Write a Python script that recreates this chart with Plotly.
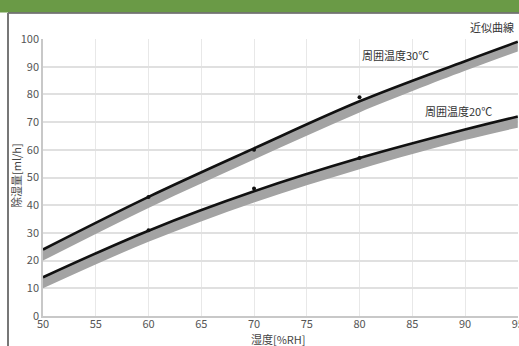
import plotly.graph_objects as go

# Data
humidity = [50, 60, 70, 80, 90, 95]
curve_30 = [24, 43, 60.5, 77.5, 92, 99]
band_30_low = [20, 39, 56.5, 73.5, 88.5, 95.5]
curve_20 = [14, 30.8, 45, 57, 67.3, 72]
band_20_low = [10, 26.8, 41, 53, 63.5, 68]

pts_x = [60, 70, 80]
pts_30 = [43, 60, 79]
pts_20 = [31, 46, 57]

x_ticks = [50, 55, 60, 65, 70, 75, 80, 85, 90, 95]
y_ticks = [0, 10, 20, 30, 40, 50, 60, 70, 80, 90, 100]

FONT = "Noto Sans CJK JP"
W, H = 519, 346
L, R, T, B = 43, 518, 39, 316


def px(x):
    return (x - L) / (R - L)


def py(y):
    return (B - y) / (B - T)


fig = go.Figure()
for low, up in [(band_30_low, curve_30), (band_20_low, curve_20)]:
    fig.add_trace(go.Scatter(x=humidity, y=low, mode="lines",
                             line=dict(width=0, shape="spline", color="#a3a3a3"),
                             hoverinfo="skip", showlegend=False))
    fig.add_trace(go.Scatter(x=humidity, y=up, mode="lines", fill="tonexty",
                             fillcolor="#a3a3a3",
                             line=dict(width=2.6, shape="spline", color="#111111"),
                             showlegend=False))
for ys in [pts_30, pts_20]:
    fig.add_trace(go.Scatter(x=pts_x, y=ys, mode="markers",
                             marker=dict(size=4, color="#111111"),
                             showlegend=False))

fig.update_layout(
    width=W, height=H,
    margin=dict(l=L, r=W - R, t=T, b=H - B, autoexpand=False),
    paper_bgcolor="white", plot_bgcolor="white",
    font=dict(family=FONT, size=11, color="#555555"),
    xaxis=dict(range=[50, 95.02], tickvals=x_ticks, showgrid=True,
               gridcolor="#e8e8e8", gridwidth=1, showline=True,
               linecolor="#c8c8c8", linewidth=2, ticks="", zeroline=False,
               ticklabelstandoff=-3, ticklabeloverflow="allow", automargin=False,
               tickfont=dict(size=11, color="#555555")),
    yaxis=dict(range=[0, 100], tickvals=y_ticks, showgrid=True,
               gridcolor="#e0e0e0", gridwidth=1.5, showline=True,
               linecolor="#c8c8c8", linewidth=1.5, ticks="", zeroline=False,
               automargin=False,
               tickfont=dict(size=11, color="#555555")),
    shapes=[
        dict(type="rect", xref="paper", yref="paper",
             x0=px(-2), x1=px(W + 2), y0=py(12.5), y1=py(-2),
             fillcolor="#6a9a46", line=dict(width=0), layer="above"),
        dict(type="line", xref="paper", yref="paper",
             x0=px(8), x1=px(W + 2), y0=py(13), y1=py(13),
             line=dict(color="#5a5a5a", width=1.5)),
        dict(type="line", xref="paper", yref="paper",
             x0=px(8), x1=px(8), y0=py(13), y1=py(H + 2),
             line=dict(color="#777777", width=2)),
    ],
    annotations=[
        dict(text="近似曲線", xref="paper", yref="paper", x=px(516), y=py(27),
             xanchor="right", yanchor="middle", showarrow=False,
             font=dict(size=11, color="#333333")),
        dict(text="周囲温度30℃", xref="paper", yref="paper", x=px(395), y=py(55),
             xanchor="center", yanchor="middle", showarrow=False,
             font=dict(size=11, color="#333333")),
        dict(text="周囲温度20℃", xref="paper", yref="paper", x=px(458), y=py(111),
             xanchor="center", yanchor="middle", showarrow=False,
             font=dict(size=11, color="#333333")),
        dict(text="除湿量[ml/h]", xref="paper", yref="paper", x=px(16), y=py(176),
             xanchor="center", yanchor="middle", textangle=-90, showarrow=False,
             font=dict(size=11, color="#444444")),
        dict(text="湿度[%RH]", xref="paper", yref="paper", x=px(278), y=py(339),
             xanchor="center", yanchor="middle", showarrow=False,
             font=dict(size=11, color="#444444")),
    ],
)

fig.write_html("out.html")
